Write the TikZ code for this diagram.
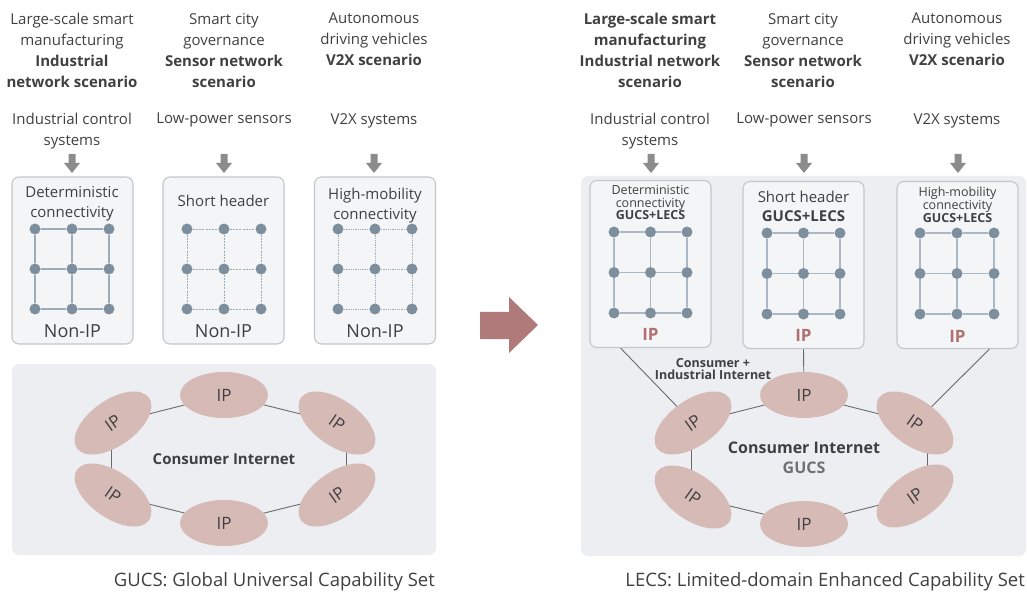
\documentclass[tikz,border=0pt]{standalone}
\usepackage{fontspec}
\setmainfont{Open Sans}
\usetikzlibrary{shapes.geometric,calc}
\definecolor{txt}{HTML}{404040}
\definecolor{boxfill}{HTML}{F4F5F7}
\definecolor{boxline}{HTML}{C4C6CA}
\definecolor{panel}{HTML}{ECEEF2}
\definecolor{dotc}{HTML}{7D8E9C}
\definecolor{gridc}{HTML}{9AABBA}
\definecolor{ipfill}{HTML}{D6BAB6}
\definecolor{ipred}{HTML}{B26F6F}
\definecolor{arrowg}{HTML}{8C8C8C}
\definecolor{bigarrow}{HTML}{B07A7A}
\definecolor{ringline}{HTML}{6A6A6A}
\definecolor{gucsgray}{HTML}{707070}
\pgfdeclarelayer{bg}
\pgfdeclarelayer{mid}
\pgfsetlayers{bg,mid,main}
\newcommand\dotgrid[6]{%
  \foreach \i in {0,1,2}{\foreach \j in {0,1,2}{\node[dotn] (#1\i\j) at ({#2+\i*#3},{#4+\j*#5}) {};}}%
  \foreach \j in {0,1,2}{\draw[#6] (#10\j) -- (#11\j) -- (#12\j);}%
  \foreach \i in {0,1,2}{\draw[#6] (#1\i0) -- (#1\i1) -- (#1\i2);}%
}
\newcommand\garrow[1]{%
  \fill[arrowg] ($(#1)+(-3.5,-9)$) -- ($(#1)+(3.5,-9)$) -- ($(#1)+(3.5,0)$) -- ($(#1)+(8,0)$) -- ($(#1)+(0,10)$) -- ($(#1)+(-8,0)$) -- ($(#1)+(-3.5,0)$) -- cycle;}
\tikzset{
  tl/.style={anchor=north, inner sep=0, align=center, text=txt, font=\fontsize{15}{21}\selectfont},
  lbl/.style={anchor=north, inner sep=0, align=center, text=txt, font=\fontsize{15}{20}\selectfont},
  sml/.style={anchor=north, inner sep=0, align=center, text=txt, font=\fontsize{12.5}{12.7}\selectfont},
  boxn/.style={draw=boxline, fill=boxfill, line width=1.1pt, rounded corners=7pt, minimum width=121pt, minimum height=167pt, inner sep=0},
  dotn/.style={circle, fill=dotc, minimum size=11pt, inner sep=0},
  gsolid/.style={draw=gridc, line width=1.4pt},
  gsolidr/.style={draw=gridc!85, line width=1.8pt},
  gdash/.style={draw=gridc, line width=0.9pt, dash pattern=on 2pt off 1.2pt},
  gdot/.style={draw=gridc, line width=0.9pt, dash pattern=on 0.8pt off 1pt},
  ipn/.style={ellipse, fill=ipfill, minimum width=88pt, minimum height=46pt, inner sep=0, text=txt, font=\fontsize{17}{17}\selectfont},
  ring/.style={draw=ringline, line width=0.9pt},
  nonip/.style={anchor=base, inner sep=0, text=txt, font=\fontsize{18}{18}\selectfont},
  redip/.style={anchor=base, inner sep=0, text=ipred, font=\fontsize{17}{17}\selectfont\bfseries},
  capn/.style={anchor=base east, inner sep=0, text=txt, font=\fontsize{18.5}{18.5}\selectfont},
}
\begin{document}
\begin{tikzpicture}[x=1pt,y=-1pt]
\useasboundingbox (0,0) rectangle (1027,593);
% ---------------- panels
\begin{pgfonlayer}{bg}
\fill[panel, rounded corners=7pt] (12,364) rectangle (436,555);
\fill[panel, rounded corners=7pt] (581,176) rectangle (1026,556);
\end{pgfonlayer}
% ---------------- LEFT top texts
\node[tl] (lt1) at (72,13) {Large-scale smart\\manufacturing\\\textbf{Industrial}\\\textbf{network scenario}};
\node[tl] (lt2) at (224,13) {Smart city\\governance\\\textbf{Sensor network}\\\textbf{scenario}};
\node[tl] (lt3) at (374,13) {Autonomous\\driving vehicles\\\textbf{V2X scenario}};
\node[tl] (ls1) at (72,113) {Industrial control\\systems};
\node[tl] (ls2) at (224,113) {Low-power sensors};
\node[tl] (ls3) at (374,113) {V2X systems};
\coordinate (la1) at (72,163);
\coordinate (la2) at (224,163);
\coordinate (la3) at (374,163);
\garrow{la1}\garrow{la2}\garrow{la3}
% left boxes
\node[boxn] (lb1) at (72.5,260.5) {};
\node[boxn] (lb2) at (223.5,260.5) {};
\node[boxn] (lb3) at (375,260.5) {};
\node[lbl] (lbt1) at (72,186) {Deterministic\\connectivity};
\node[lbl] (lbt2) at (223.5,195) {Short header};
\node[lbl] (lbt3) at (375,188) {High-mobility\\connectivity};
\dotgrid{la}{35}{37}{229}{40}{gsolid}
\dotgrid{lc}{187}{37}{229}{40}{gdash}
\dotgrid{ld}{338}{37}{229}{40}{gdot}
\node[nonip] (ln1) at (72.5,337) {Non-IP};
\node[nonip] (ln2) at (223.5,337) {Non-IP};
\node[nonip] (ln3) at (375,337) {Non-IP};
% left ring
\node[ipn] (lt) at (224,395) {IP};
\node[ipn, rotate=35] (lul) at (113,423) {IP};
\node[ipn, rotate=-35] (lur) at (337,423) {IP};
\node[ipn, rotate=-35] (lll) at (113,495) {IP};
\node[ipn, rotate=35] (llr) at (337,495) {IP};
\node[ipn] (lbm) at (224,523) {IP};
\begin{pgfonlayer}{mid}
\draw[ring] (lt.center) -- (lul.center);
\draw[ring] (lt.center) -- (lur.center);
\draw[ring] ([xshift=-2pt]lul.center) -- ([xshift=-2pt]lll.center);
\draw[ring] ([xshift=9pt]lur.center) -- ([xshift=9pt]llr.center);
\draw[ring] (lll.center) -- (lbm.center);
\draw[ring] (llr.center) -- (lbm.center);
\end{pgfonlayer}
\node[text=txt, font=\fontsize{15}{15}\selectfont\bfseries] (lci) at (224,459) {Consumer Internet};
\node[capn] (lcap) at (435,586) {GUCS: Global Universal Capability Set};
% ---------------- big arrow
\fill[bigarrow] (480,312) -- (509,312) -- (509,297) -- (538,325) -- (509,353) -- (509,339) -- (480,339) -- cycle;
% ---------------- RIGHT top texts
\node[tl, font=\fontsize{15}{21}\selectfont\bfseries] (rt1) at (650,13) {Large-scale smart\\manufacturing\\Industrial network\\scenario};
\node[tl] (rt2) at (803,13) {Smart city\\governance\\\textbf{Sensor network}\\\textbf{scenario}};
\node[tl] (rt3) at (957,13) {Autonomous\\driving vehicles\\\textbf{V2X scenario}};
\node[tl] (rs1) at (650,113) {Industrial control\\systems};
\node[tl] (rs2) at (804,113) {Low-power sensors};
\node[tl] (rs3) at (957,113) {V2X systems};
\coordinate (ra1) at (651,163);
\coordinate (ra2) at (804,163);
\coordinate (ra3) at (958,163);
\garrow{ra1}\garrow{ra2}\garrow{ra3}
% right boxes
\node[boxn] (rb1) at (650.5,264) {};
\node[boxn] (rb2) at (803.5,265) {};
\node[boxn] (rb3) at (957.5,265) {};
\node[sml] (rbt1) at (650.5,185) {Deterministic\\connectivity\\\textbf{GUCS+LECS}};
\node[lbl, font=\fontsize{15}{19}\selectfont] (rbt2) at (803.5,191) {Short header\\\textbf{GUCS+LECS}};
\node[sml, font=\fontsize{12.5}{12}\selectfont] (rbt3) at (957.5,187) {High-mobility\\connectivity\\\textbf{GUCS+LECS}};
\dotgrid{ra}{614}{36.5}{232}{40.5}{gsolidr}
\dotgrid{rc}{767}{36.5}{233}{40.5}{gsolidr}
\dotgrid{rd}{920}{37}{233}{40.5}{gsolidr}
\node[redip] (rn1) at (650.5,340) {IP};
\node[redip] (rn2) at (803.5,341) {IP};
\node[redip] (rn3) at (957.5,342) {IP};
% right ring
\node[ipn] (rt) at (804,395) {IP};
\node[ipn, rotate=35] (rul) at (693,423) {IP};
\node[ipn, rotate=-35] (rur) at (915,423) {IP};
\node[ipn, rotate=-35] (rll) at (693,497) {IP};
\node[ipn, rotate=35] (rlr) at (915,496) {IP};
\node[ipn] (rbm) at (804,524) {IP};
\coordinate (rc1) at ($(rb1.south)+(-30,0)$);
\coordinate (rc3) at ($(rb3.south)+(32,0)$);
\begin{pgfonlayer}{mid}
\draw[ring] (rt.center) -- (rul.center);
\draw[ring] (rt.center) -- (rur.center);
\draw[ring] ([xshift=-2pt]rul.center) -- ([xshift=-2pt]rll.center);
\draw[ring] ([xshift=12pt]rur.center) -- ([xshift=12pt]rlr.center);
\draw[ring] (rll.center) -- (rbm.center);
\draw[ring] (rlr.center) -- (rbm.center);
\draw[ring] (rc1) -- (rul.center);
\draw[ring] (rb2.south) -- (rt.center);
\draw[ring] (rc3) -- (rur.center);
\end{pgfonlayer}
\node[align=center, inner sep=0, text=txt, font=\fontsize{12.5}{12.5}\selectfont\bfseries] (rcii) at (713,369) {Consumer +\\Industrial Internet};
\node[text=txt, font=\fontsize{16}{16}\selectfont\bfseries] (rci) at (804,448) {Consumer Internet};
\node[text=gucsgray, font=\fontsize{16}{16}\selectfont\bfseries] (rgucs) at (804,468) {GUCS};
\node[capn] (rcap) at (1025,586) {LECS: Limited-domain Enhanced Capability Set};
\end{tikzpicture}
\end{document}
